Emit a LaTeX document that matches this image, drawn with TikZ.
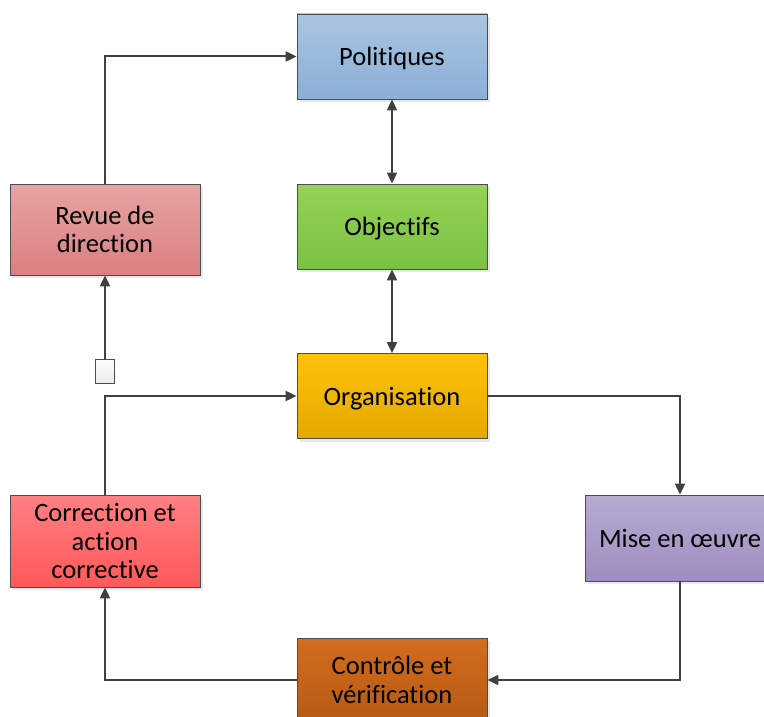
\documentclass[tikz,border=0pt]{standalone}
\usepackage{fontspec}
\setmainfont{Carlito}[Ligatures=NoCommon]
\usetikzlibrary{arrows.meta,shadows}
\definecolor{polT}{HTML}{A9C5E2}
\definecolor{polB}{HTML}{8BAFD6}
\definecolor{objT}{HTML}{95D354}
\definecolor{objB}{HTML}{7AC143}
\definecolor{orgT}{HTML}{FFC20A}
\definecolor{orgB}{HTML}{E3A900}
\definecolor{revT}{HTML}{E8A3A3}
\definecolor{revB}{HTML}{DA8080}
\definecolor{corT}{HTML}{FF8084}
\definecolor{corB}{HTML}{FF5858}
\definecolor{miseT}{HTML}{B7ABD2}
\definecolor{miseB}{HTML}{9E8DC0}
\definecolor{ctlT}{HTML}{D36D1F}
\definecolor{ctlB}{HTML}{B65A12}
\tikzset{>={Triangle[length=11pt,width=10pt]},
         blk/.style={draw=black!70, line width=0.8pt, minimum width=190pt,
           minimum height=85pt, inner sep=0pt, align=center,
           font=\fontsize{26.5}{28.5}\selectfont,
           drop shadow={shadow xshift=3pt,shadow yshift=-3pt,opacity=0.18}},
         oneline/.style={text depth=0pt},
         shade2/.style 2 args={top color=#1,bottom color=#2},
         conn/.style={draw=black!75, line width=2pt}}
\begin{document}
\begin{tikzpicture}[x=1pt,y=-1pt]
	  \clip (0,0) rectangle (764,717);
	  \node[blk,oneline,shade2={polT}{polB}] (pol) at (392,56.5) {Politiques};
	  \node[blk,oneline,shade2={objT}{objB}] (obj) at (392,226.5) {Objectifs};
	  \node[blk,oneline,shade2={orgT}{orgB}] (org) at (392,396) {Organisation};
	  \node[blk,shade2={revT}{revB},minimum height=91pt] (rev) at (105,229.5) {Revue de\\direction};
	  \node[blk,shade2={corT}{corB},minimum height=92pt] (cor) at (105,541) {Correction et\\action\\corrective};
	  \node[blk,oneline,shade2={miseT}{miseB},minimum height=86pt] (mise) at (680,538) {Mise en œuvre};
	  \node[blk,shade2={ctlT}{ctlB},minimum height=84pt] (ctl) at (392,680) {Contrôle et\\vérification};
	  \node[draw=black!70, line width=0.8pt, shade2={white}{black!8},
	        minimum width=19pt, minimum height=24pt, inner sep=0pt] (sq) at (105,371) {};
	  \draw[conn,->] (rev.north) |- (pol.west);
	  \draw[conn,<->] (pol) -- (obj);
	  \draw[conn,<->] (obj) -- (org);
	  \draw[conn,->] (sq) -- (rev.south);
	  \draw[conn,->] (cor.north) |- (org.west);
	  \draw[conn,->] (org.east) -| (mise.north);
	  \draw[conn,->] (mise.south) |- (ctl.east);
	  \draw[conn,->] (ctl.west) -| (cor.south);
\end{tikzpicture}
\end{document}
